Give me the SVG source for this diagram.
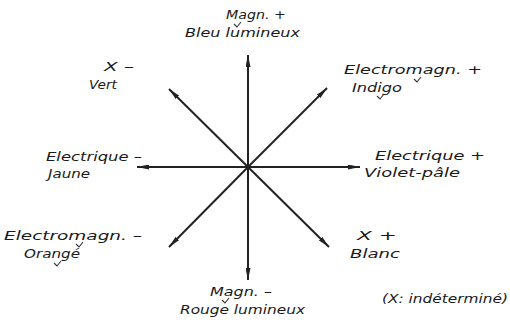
<svg xmlns="http://www.w3.org/2000/svg" width="510" height="330" viewBox="0 0 510 330">
<style>
text{font-family:"DejaVu Sans","Liberation Sans",sans-serif;font-style:italic;font-size:13px;fill:#1a1a1a;}
.c line{stroke:#222;stroke-width:2;}
.t{fill:none;stroke:#333;stroke-width:1.1;}
</style>
<defs>
<marker id="a" viewBox="0 0 12 5" refX="12" refY="2.5" markerWidth="12" markerHeight="5" markerUnits="userSpaceOnUse" orient="auto"><path d="M0,0L12,2.5L0,5z" fill="#222"/></marker>
</defs>
<rect width="510" height="330" fill="#fff"/>
<g class="c" id="connectors">
<line x1="248" y1="167" x2="248" y2="55" marker-end="url(#a)"/>
<line x1="248" y1="167" x2="248" y2="280" marker-end="url(#a)"/>
<line x1="248" y1="167" x2="137" y2="167" marker-end="url(#a)"/>
<line x1="248" y1="167" x2="360" y2="167" marker-end="url(#a)"/>
<line x1="248" y1="167" x2="169" y2="89" marker-end="url(#a)"/>
<line x1="248" y1="167" x2="327" y2="88" marker-end="url(#a)"/>
<line x1="248" y1="167" x2="169" y2="247" marker-end="url(#a)"/>
<line x1="248" y1="167" x2="329" y2="247" marker-end="url(#a)"/>
</g>
<g id="n-top"><text x="226" y="19" textLength="60" lengthAdjust="spacingAndGlyphs">Magn. +</text><text x="185" y="37" textLength="115" lengthAdjust="spacingAndGlyphs">Bleu lumineux</text><path class="t" d="M234,24l3,3l4,-5"/></g>
<g id="n-tl"><text x="104" y="71" textLength="30" lengthAdjust="spacingAndGlyphs">X –</text><text x="89" y="89" textLength="28" lengthAdjust="spacingAndGlyphs">Vert</text></g>
<g id="n-tr"><text x="344" y="74" textLength="138" lengthAdjust="spacingAndGlyphs">Electromagn. +</text><text x="352" y="92" textLength="50" lengthAdjust="spacingAndGlyphs">Indigo</text><path class="t" d="M414,79l3,3l4,-5"/><path class="t" d="M377,96l3,3l4,-5"/></g>
<g id="n-l"><text x="46" y="161" textLength="96" lengthAdjust="spacingAndGlyphs">Electrique –</text><text x="48" y="178" textLength="42" lengthAdjust="spacingAndGlyphs">Jaune</text></g>
<g id="n-r"><text x="375" y="160" textLength="110" lengthAdjust="spacingAndGlyphs">Electrique +</text><text x="364" y="177" textLength="96" lengthAdjust="spacingAndGlyphs">Violet-pâle</text></g>
<g id="n-bl"><text x="4" y="240" textLength="138" lengthAdjust="spacingAndGlyphs">Electromagn. –</text><text x="24" y="258" textLength="56" lengthAdjust="spacingAndGlyphs">Orangé</text><path class="t" d="M76,244l3,3l4,-5"/><path class="t" d="M54,263l3,3l4,-5"/></g>
<g id="n-br"><text x="357" y="240" textLength="40" lengthAdjust="spacingAndGlyphs">X +</text><text x="350" y="258" textLength="50" lengthAdjust="spacingAndGlyphs">Blanc</text></g>
<g id="n-bot"><text x="210" y="296" textLength="62" lengthAdjust="spacingAndGlyphs">Magn. –</text><text x="180" y="314" textLength="125" lengthAdjust="spacingAndGlyphs">Rouge lumineux</text><path class="t" d="M222,300l3,3l4,-5"/></g>
<g id="note"><text x="382" y="303" textLength="126" lengthAdjust="spacingAndGlyphs">(X: indéterminé)</text></g>
</svg>
